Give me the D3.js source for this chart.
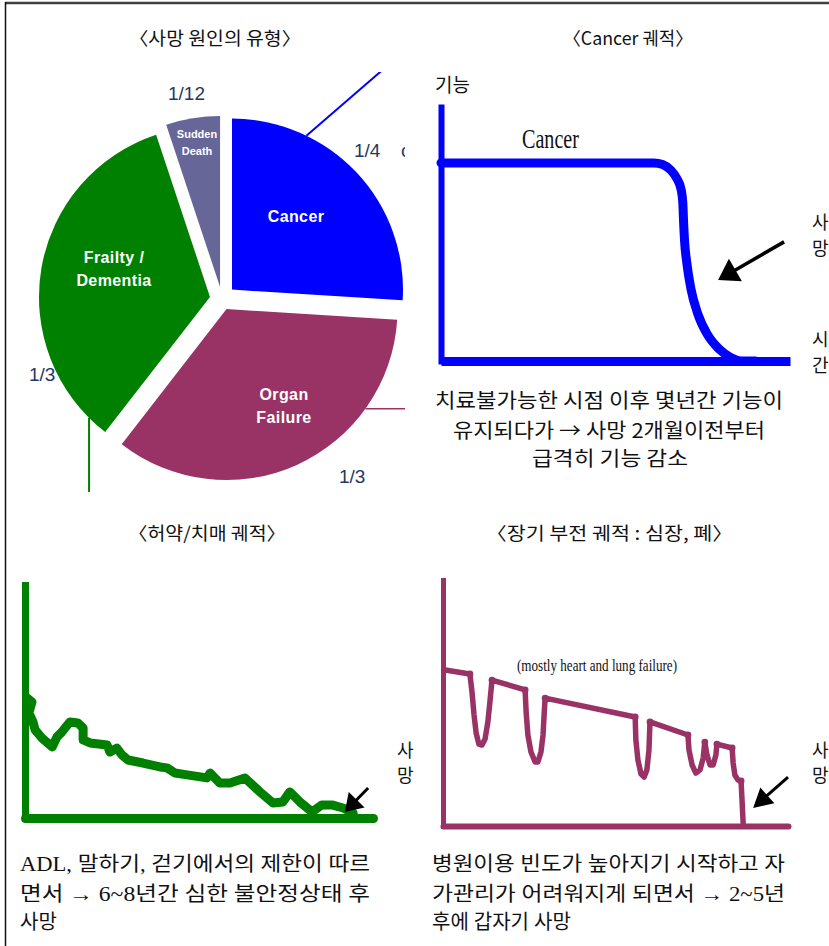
<!DOCTYPE html>
<html><head><meta charset="utf-8">
<script src="https://cdn.jsdelivr.net/npm/d3@7"></script>
<style>body{margin:0;background:#fff}svg{display:block}</style>
</head><body>
<svg id="c" width="829" height="946"></svg>
<script>
// ---------------- DATA ----------------
const pieCategories = ["Cancer", "Organ Failure", "Frailty / Dementia", "Sudden Death"];
const pieLabelLines = [["Cancer"], ["Organ", "Failure"], ["Frailty /", "Dementia"], ["Sudden", "Death"]];
const pieShares = [26.0, 34.5, 34.4, 5.1];           // share of the circle as drawn (%)
const pieFractionLabels = ["1/4", "1/3", "1/3", "1/12"];
const pieColors = ["#0000FF", "#993366", "#008000", "#666699"];

const panelTitles = ["〈사망 원인의 유형〉", "〈Cancer 궤적〉", "〈허약/치매 궤적〉", "〈장기 부전 궤적 : 심장, 폐〉"];

// trajectories: [time (0-100), function level (0-100)]
const cancerTrajectory = [[0,78],[30,78],[61,78],[63.5,77.4],[65.8,75.2],[67.6,71.8],[68.8,67.5],[69.3,62],[69.5,55],[69.8,47],[70.4,39],[71.6,28.5],[73.6,18.5],[76.3,10.5],[79.6,4.8],[83,1.4],[86,0],[90,0]];
const frailtyTrajectory = [[0.6,51.5],[2.0,49.8],[1.1,45.1],[2.3,41.2],[2.9,37.8],[4.9,34.3],[7.8,30.5],[9.2,34.8],[10.6,36.9],[11.5,38.6],[12.9,41.2],[15.2,40.8],[16.7,38.6],[16.7,33.5],[18.7,32.2],[23.6,31.3],[24.4,28.3],[26.4,30.0],[27.9,27.0],[29.6,24.9],[33.9,23.6],[38.8,21.9],[40.8,21.5],[43.1,19.3],[46.6,18.5],[52.3,17.2],[53.2,19.3],[56.0,15.0],[58.9,15.0],[63.2,17.2],[67.5,11.2],[71.3,6.4],[74.1,6.9],[76.1,11.2],[79.0,6.9],[82.5,2.6],[85.3,5.6],[88.2,5.6],[91.4,4.3],[94.3,2.1]];
const organTrajectory = [[0.6,63.4],[7.8,61.8],
  [8.4,54.5],[9.0,45.1],[9.6,37.8],[10.4,33.3],[11.3,32.9],[12.2,35.4],[13.0,42.3],[13.6,50.4],[14.2,59.3],
  [23.8,55.3],
  [24.1,46.3],[24.6,37.0],[25.5,30.1],[26.7,26.0],[27.5,26.0],[28.4,30.1],[29.0,37.0],[29.3,45.1],[29.6,52.0],
  [55.7,44.3],
  [55.9,35.0],[56.5,26.8],[57.4,21.1],[58.3,19.9],[59.1,22.8],[59.7,30.9],[60.0,42.3],
  [71.0,37.0],
  [71.3,30.9],[72.2,24.8],[73.3,21.5],[74.5,22.8],[75.4,27.6],[75.9,34.1],
  [76.5,28.9],[77.4,24.8],[78.3,24.8],[79.1,28.9],[79.4,33.3],
  [83.8,31.7],
  [84.1,25.6],[84.6,20.7],[85.5,18.7],[86.4,18.3],[87.0,1.2]];
// ledge end points drawn as separate strokes (round blobs)
const organJoints = [[7.8,61.8],[14.2,59.3],[23.8,55.3],[29.6,52.0],[55.7,44.3],[60.0,42.3],[71.0,37.0],[75.9,34.1],[79.4,33.3],[83.8,31.7],[86.4,18.3]];

// arrows [tail, tip] in data units
const cancerArrow = [[98.3,46.9],[79.4,31.9]];
const frailtyArrow = [[98.6,12.9],[91.9,2.6]];
const organArrow = [[100,19.9],[89.9,7.3]];

const cancerCaption = ["치료불가능한 시점 이후 몇년간 기능이", "유지되다가 → 사망 2개월이전부터", "급격히 기능 감소"];
const frailtyCaption = ["ADL, 말하기, 걷기에서의 제한이 따르", "면서 → 6~8년간 심한 불안정상태 후", "사망"];
const organCaption = ["병원이용 빈도가 높아지기 시작하고 자", "가관리가 어려워지게 되면서 → 2~5년", "후에 갑자기 사망"];

// ---------------- DRAW ----------------
const svg = d3.select("#c");
const KR = "'Noto Sans CJK KR', 'Noto Sans', sans-serif";
const SERIF_KR = "'Liberation Serif', 'Noto Sans CJK KR', serif";
const defs = svg.append("defs");
defs.append("clipPath").attr("id", "pieClip").append("rect")
  .attr("x", 0).attr("y", 72).attr("width", 405).attr("height", 420);

// frame
svg.append("line").attr("x1", 5).attr("y1", 3).attr("x2", 829).attr("y2", 3)
  .attr("stroke", "#404040").attr("stroke-width", 2.4);
svg.append("line").attr("x1", 5.5).attr("y1", 2).attr("x2", 5.5).attr("y2", 946)
  .attr("stroke", "#111").attr("stroke-width", 1.5);

function fitText(x, y, str, len, size, family, anchor) {
  const t = svg.append("text").attr("x", x).attr("y", y).text(str)
    .attr("font-family", family).attr("font-size", size).attr("fill", "#111");
  if (anchor) t.attr("text-anchor", anchor);
  if (len) t.attr("textLength", len).attr("lengthAdjust", "spacingAndGlyphs");
  return t;
}

// titles
const titleLayout = [[129, 45, 172], [563, 45, 130], [128, 540, 158], [486, 540, 247]];
panelTitles.forEach((s, i) => fitText(titleLayout[i][0], titleLayout[i][1], s, titleLayout[i][2], 18, KR));

// ---------- PIE ----------
const pieCenter = [222, 299], R = 171;
const explode = [13.7, 11, 12.2, 12.2];
const arcs = d3.pie().sort(null).value(d => d)(pieShares);
const arcGen = d3.arc().innerRadius(0).outerRadius(R);
const pieG = svg.append("g").attr("clip-path", "url(#pieClip)");
const offs = arcs.map((a, i) => {
  const m = (a.startAngle + a.endAngle) / 2;
  return [pieCenter[0] + Math.sin(m) * explode[i], pieCenter[1] - Math.cos(m) * explode[i]];
});
pieG.selectAll("path.slice").data(arcs).join("path").attr("class", "slice")
  .attr("d", arcGen).attr("fill", (d, i) => pieColors[i])
  .attr("transform", (d, i) => `translate(${offs[i][0]},${offs[i][1]})`);

// leader lines: [slice, angle on arc (deg), dx, dy, width]
const leaders = [[0, 25.8, 110, -95, 2], [1, 125.7, 60, 0, 1.6], [2, 225, 0, 90, 2]];
leaders.forEach(([i, deg, dx, dy, w]) => {
  const a = deg * Math.PI / 180;
  const x0 = offs[i][0] + Math.sin(a) * R, y0 = offs[i][1] - Math.cos(a) * R;
  pieG.append("line").attr("x1", x0).attr("y1", y0).attr("x2", x0 + dx).attr("y2", y0 + dy)
    .attr("stroke", pieColors[i]).attr("stroke-width", w);
});

// slice names
const sliceLabelPos = [[296, [222]], [284, [400, 423]], [114, [263, 286]], [197, [138, 155]]];
const sliceLabelSize = [16, 16, 16, 11];
pieLabelLines.forEach((lines, i) => {
  lines.forEach((ln, j) => {
    pieG.append("text").attr("x", sliceLabelPos[i][0]).attr("y", sliceLabelPos[i][1][j])
      .attr("text-anchor", "middle").attr("fill", "#fff").attr("font-weight", "bold")
      .attr("font-family", "'Liberation Sans', Arial, sans-serif")
      .attr("font-size", sliceLabelSize[i]).attr("letter-spacing", i === 3 ? 0 : 0.4).text(ln);
  });
});
// fractions
const fracPos = [[354, 157], [339, 483], [29, 381], [168, 100]];
pieFractionLabels.forEach((s, i) => {
  pieG.append("text").attr("x", fracPos[i][0]).attr("y", fracPos[i][1]).text(s)
    .attr("font-family", "'Liberation Sans', Arial, sans-serif").attr("font-size", 19)
    .attr("fill", "#1F3864");
});
pieG.append("text").attr("x", 401).attr("y", 157).text("c")
  .attr("font-family", "'Liberation Sans', Arial, sans-serif").attr("font-size", 19).attr("fill", "#1F3864");

// ---------- generic trajectory panel ----------
function panel(cfg) {
  const x = d3.scaleLinear().domain([0, 100]).range(cfg.xr);
  const y = d3.scaleLinear().domain([0, 100]).range(cfg.yr);
  const g = svg.append("g");
  const ax = g.append("g").attr("transform", `translate(0,${y(0)})`)
    .call(d3.axisBottom(x).ticks(0).tickSize(0).tickSizeOuter(0));
  ax.select(".domain").attr("stroke", cfg.color).attr("stroke-width", cfg.hw).attr("stroke-linecap", cfg.cap);
  ax.selectAll("text").remove();
  const ay = g.append("g").attr("transform", `translate(${x(0)},0)`)
    .call(d3.axisLeft(y).ticks(0).tickSize(0).tickSizeOuter(0));
  ay.select(".domain").attr("stroke", cfg.color).attr("stroke-width", cfg.vw).attr("stroke-linecap", "square");
  ay.selectAll("text").remove();
  const line = d3.line().x(d => x(d[0])).y(d => y(d[1])).curve(cfg.curve);
  g.append("path").datum(cfg.data).attr("d", line).attr("fill", "none")
    .attr("stroke", cfg.color).attr("stroke-width", cfg.lw)
    .attr("stroke-linejoin", "round").attr("stroke-linecap", "round");
  if (cfg.joints) {
    g.selectAll("circle.j").data(cfg.joints).join("circle").attr("class", "j")
      .attr("cx", d => x(d[0])).attr("cy", d => y(d[1])).attr("r", cfg.lw * 0.62).attr("fill", cfg.color);
  }
  // arrow
  const [t0, t1] = cfg.arrow;
  const x1 = x(t0[0]), y1 = y(t0[1]), x2 = x(t1[0]), y2 = y(t1[1]);
  const L = Math.hypot(x2 - x1, y2 - y1), ux = (x2 - x1) / L, uy = (y2 - y1) / L;
  const bx = x2 - ux * cfg.head[0], by = y2 - uy * cfg.head[0], hw = cfg.head[1] / 2;
  g.append("line").attr("x1", x1).attr("y1", y1).attr("x2", bx + ux * 2).attr("y2", by + uy * 2)
    .attr("stroke", "#000").attr("stroke-width", cfg.head[2]);
  g.append("path").attr("d", `M${x2},${y2}L${bx - uy * hw},${by + ux * hw}L${bx + uy * hw},${by - ux * hw}Z`).attr("fill", "#000");
  return { x, y, g };
}

// Cancer
panel({ xr: [441, 790], yr: [361, 107], color: "#0000FF", hw: 9, vw: 6, lw: 9, cap: "butt",
  data: cancerTrajectory, curve: d3.curveMonotoneX, arrow: cancerArrow, head: [20, 26, 3.5] });
fitText(435, 92, "기능", null, 19, KR);
fitText(522, 148, "Cancer", 57, 27, "'Liberation Serif', 'Times New Roman', serif");
[["사", 229], ["망", 255], ["시", 346], ["간", 372]].forEach(([s, yy]) => fitText(812, yy, s, null, 18, KR));
const cc = [[435, 408, 348], [453, 438, 312], [532, 466, 156]];
cancerCaption.forEach((s, i) => fitText(cc[i][0], cc[i][1], s, cc[i][2], 20, KR));

// Frailty
panel({ xr: [25, 373], yr: [818, 585], color: "#008000", hw: 9, vw: 7, lw: 9, cap: "round",
  data: frailtyTrajectory, curve: d3.curveLinear, arrow: frailtyArrow, head: [17, 22, 3] });
[["사", 757], ["망", 782]].forEach(([s, yy]) => fitText(397, yy, s, null, 18, KR));
const fc = [[20, 871, 350], [20, 901, 350], [20, 929, null]];
frailtyCaption.forEach((s, i) => fitText(fc[i][0], fc[i][1], s, fc[i][2], 20, SERIF_KR));

// Organ failure
panel({ xr: [443, 788], yr: [826, 580], color: "#993366", hw: 6, vw: 5, lw: 5.5, cap: "round",
  data: organTrajectory, curve: d3.curveLinear, joints: organJoints, arrow: organArrow, head: [19, 21, 3] });
fitText(517, 671, "(mostly heart and lung failure)", 160, 16, "'Liberation Serif', 'Times New Roman', serif");
[["사", 757], ["망", 782]].forEach(([s, yy]) => fitText(812, yy, s, null, 18, KR));
const oc = [[432, 871, 353], [432, 901, 353], [432, 929, null]];
organCaption.forEach((s, i) => fitText(oc[i][0], oc[i][1], s, oc[i][2], 20, SERIF_KR));
</script>
</body></html>
